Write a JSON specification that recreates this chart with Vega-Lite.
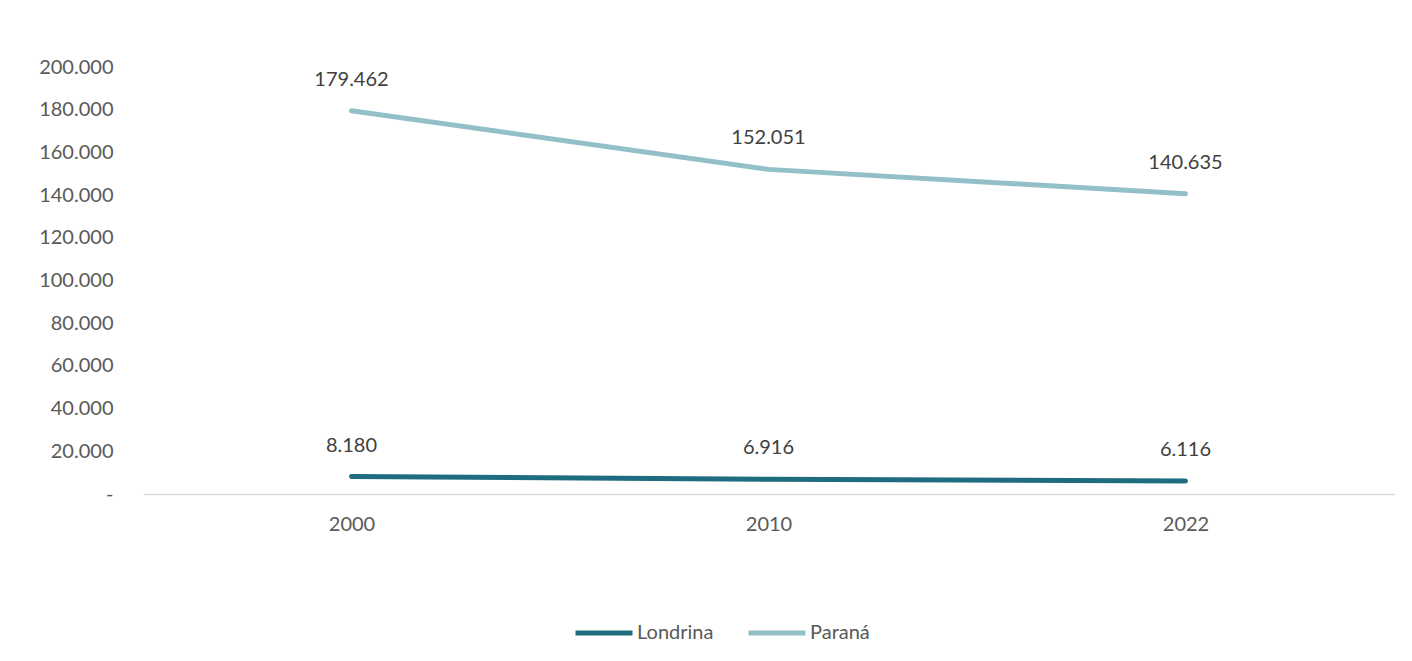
{
  "$schema": "https://vega.github.io/schema/vega-lite/v6.json",
  "width": 1251,
  "height": 427,
  "autosize": {"type": "none"},
  "padding": {"left": 143, "top": 67, "right": 18, "bottom": 167},
  "background": "#ffffff",
  "config": {
    "view": {"stroke": null},
    "locale": {"number": {"decimal": ",", "thousands": ".", "grouping": [3], "currency": ["R$", ""]}},
    "font": "Lato"
  },
  "data": {
    "values": [
      {"ano": "2000", "local": "Londrina", "valor": 8180},
      {"ano": "2010", "local": "Londrina", "valor": 6916},
      {"ano": "2022", "local": "Londrina", "valor": 6116},
      {"ano": "2000", "local": "Paraná", "valor": 179462},
      {"ano": "2010", "local": "Paraná", "valor": 152051},
      {"ano": "2022", "local": "Paraná", "valor": 140635}
    ]
  },
  "encoding": {
    "x": {
      "field": "ano", "type": "ordinal",
      "scale": {"type": "point", "padding": 0.5},
      "axis": {"title": null, "labelAngle": 0, "ticks": false, "domainColor": "#d9d9d9", "domainWidth": 1.5, "labelFontSize": 20, "labelColor": "#595959", "labelPadding": 20, "labelFont": "Lato"}
    },
    "y": {
      "field": "valor", "type": "quantitative",
      "scale": {"domain": [0, 200000], "nice": false},
      "axis": {"title": null, "grid": false, "domain": false, "ticks": false, "labelOverlap": false, "values": [0,20000,40000,60000,80000,100000,120000,140000,160000,180000,200000], "labelExpr": "datum.value == 0 ? '-' : format(datum.value, ',.0f')", "labelFontSize": 20, "labelColor": "#595959", "labelPadding": 30, "labelFont": "Lato"}
    },
    "color": {
      "field": "local", "type": "nominal",
      "scale": {"domain": ["Londrina", "Paraná"], "range": ["#1f6b7f", "#93bfc9"]},
      "legend": {"title": null, "orient": "none", "direction": "horizontal", "legendX": 430, "legendY": 535, "symbolType": "stroke", "symbolSize": 3249, "symbolStrokeWidth": 5, "labelFontSize": 20, "labelColor": "#595959", "labelOffset": 2, "columnPadding": 24, "labelFont": "Lato"}
    }
  },
  "layer": [
    {"mark": {"type": "line", "strokeWidth": 5, "strokeCap": "round"}},
    {"mark": {"type": "text", "dy": -31, "fontSize": 20, "color": "#404040", "font": "Lato"}, "encoding": {"text": {"field": "valor", "type": "quantitative", "format": ",.0f"}, "color": {"value": "#404040"}}}
  ]
}
